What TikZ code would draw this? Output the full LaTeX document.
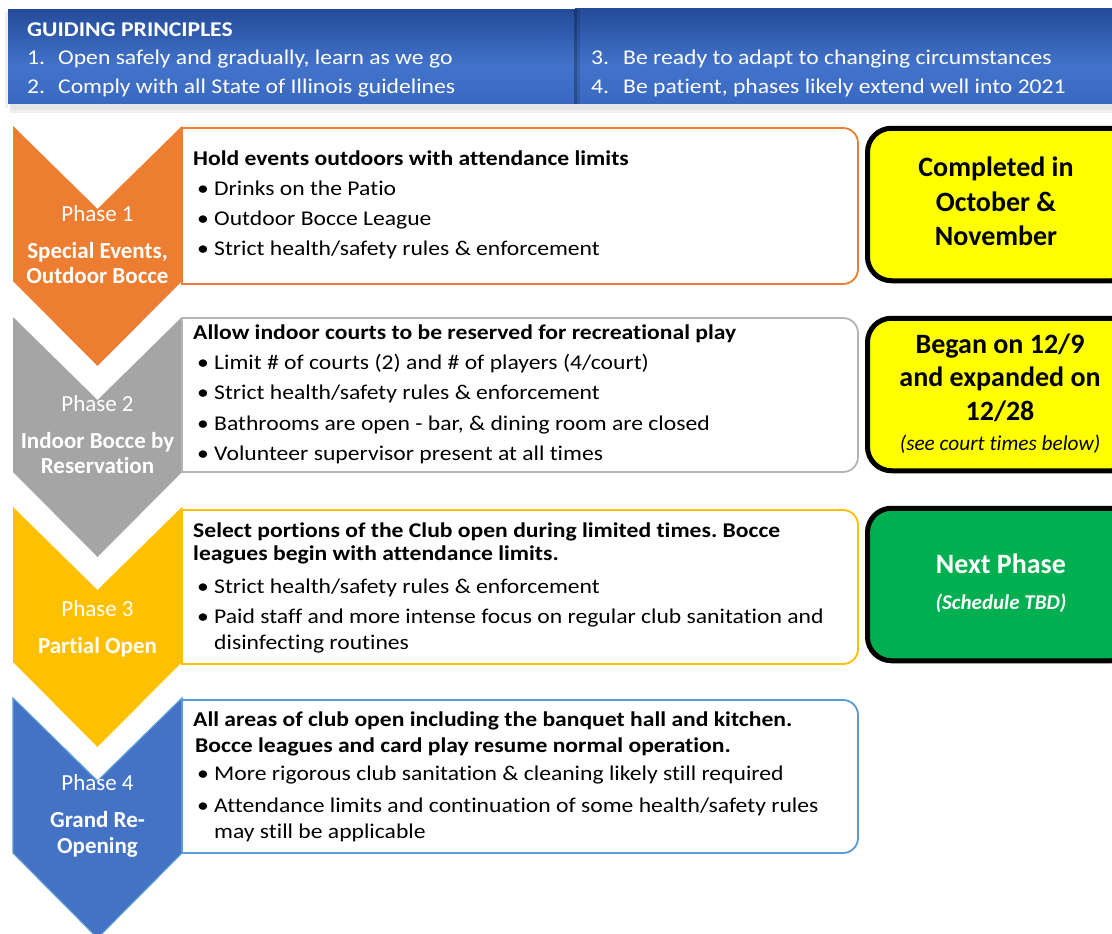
\documentclass[tikz,border=0pt]{standalone}
\usepackage{fontspec}
\setmainfont{Carlito}[Ligatures=NoCommon]
\newfontfamily\widef{Carlito}[FakeStretch=1.125, Ligatures=NoCommon]
\frenchspacing
\definecolor{orng}{HTML}{ED7D31}
\definecolor{gry}{HTML}{A5A5A5}
\definecolor{gryedge}{HTML}{B4B4B4}
\definecolor{gold}{HTML}{FFC000}
\definecolor{blu}{HTML}{4472C4}
\definecolor{bluedge}{HTML}{5B9BD5}
\definecolor{ylw}{HTML}{FFFF00}
\definecolor{grn}{HTML}{00B050}
\definecolor{htop}{HTML}{0B2260}
\definecolor{hup}{HTML}{1F4592}
\definecolor{hmid}{HTML}{4273CA}
\definecolor{hbot}{HTML}{2D5AB3}
\pgfdeclareverticalshading{hdrshade}{100bp}{color(0bp)=(hbot); color(45bp)=(hmid); color(80bp)=(hup); color(100bp)=(htop)}
\newcommand\fsz[1]{\fontsize{#1}{#1}\selectfont}
\newcommand\pbox[3]{%
  \draw[pbox, draw=#1] (182,#2) -- (843,#2) .. controls (851.3,#2) and (858,#2+6.7) .. (858,#2+15)
    -- (858,#3-15) .. controls (858,#3-6.7) and (851.3,#3) .. (843,#3) -- (182,#3) -- cycle;}
\newcommand\chev[2]{%
  \fill[#1] (13,#2) -- (97.5,#2+83) -- (182,#2) -- (182,#2+155) -- (97.5,#2+240) -- (13,#2+155) -- cycle;}
\tikzset{
  pbox/.style={line width=1.8pt, fill=white},
  hdr/.style={anchor=base west, inner sep=0pt, text=white, font=\widef\fsz{21}},
  hdrb/.style={hdr, font=\widef\fsz{21}\bfseries},
  body/.style={anchor=base west, inner sep=0pt, text=black, font=\widef\fsz{21}},
  bodyb/.style={body, font=\widef\fsz{21}\bfseries},
  phn/.style={anchor=base, inner sep=0pt, text=white, font=\fsz{23}},
  pht/.style={anchor=base, inner sep=0pt, text=white, font=\fsz{23}\bfseries},
  stat/.style={draw=black, line width=5pt, rounded corners=24pt, minimum width=268pt, minimum height=150pt, inner sep=0pt},
  st/.style={anchor=base, inner sep=0pt, font=\fsz{28}\bfseries},
  sti/.style={anchor=base, inner sep=0pt, font=\fsz{21.3}\itshape},
}
\begin{document}
\begin{tikzpicture}[x=1pt,y=-1pt]
\useasboundingbox (0,0) rectangle (1112,934);
\fill[white] (0,0) rectangle (1112,934);
% header shadow
\fill[black,opacity=0.10] (10,104) rectangle (1112,110);
\fill[black,opacity=0.06] (10,110) rectangle (1112,113);
\fill[black,opacity=0.06] (5,12) rectangle (8,108);
% header bands
\shade[shading=hdrshade] (8,10) rectangle (575,104);
\shade[shading=hdrshade] (575,9) rectangle (1120,104);
\fill[black,opacity=0.28] (574,9) rectangle (577,104);
\fill[black,opacity=0.12] (577,9) rectangle (580,104);
\node[hdrb] (gp) at (27,37) {GUIDING PRINCIPLES};
\node[hdr] (n1) at (27,65) {1.};
\node[hdr] (t1) at (58,65) {Open safely and gradually, learn as we go};
\node[hdr] (n2) at (27,94) {2.};
\node[hdr] (t2) at (58,94) {Comply with all State of Illinois guidelines};
\node[hdr] (n3) at (591,65) {3.};
\node[hdr] (t3) at (623,65) {Be ready to adapt to changing circumstances};
\node[hdr] (n4) at (591,94) {4.};
\node[hdr] (t4) at (623,94) {Be patient, phases likely extend well into 2021};
% chevrons
\chev{orng}{126}
\chev{gry}{317}
\chev{gold}{507}
\fill[blu, draw=bluedge, line width=1.2pt] (13,698) -- (97.5,781) -- (182,698) -- (182,853) -- (97.5,938) -- (13,853) -- cycle;
% chevron texts
\node[phn] (p1) at (97.5,221.7) {Phase 1};
\node[pht] (p1a) at (97.5,258.3) {Special Events,};
\node[pht] (p1b) at (97.5,283.3) {Outdoor Bocce};
\node[phn] (p2) at (97.5,411.7) {Phase 2};
\node[pht] (p2a) at (97.5,448.3) {Indoor Bocce by};
\node[pht] (p2b) at (97.5,473.3) {Reservation};
\node[phn] (p3) at (97.5,616.7) {Phase 3};
\node[pht] (p3a) at (97.5,653.3) {Partial Open};
\node[phn] (p4) at (97.5,790) {Phase 4};
\node[pht] (p4a) at (97.5,827.3) {Grand Re-};
\node[pht] (p4b) at (97.5,853.3) {Opening};
% phase boxes
\pbox{orng}{128}{284}
\pbox{gryedge}{318}{472}
\pbox{gold}{510}{664}
\pbox{bluedge}{700}{853}
% box 1
\node[bodyb] (h1) at (193,165) {Hold events outdoors with attendance limits};
\node[body] (b1ad) at (197,195) {•}; \node[body] (b1a) at (214,195) {Drinks on the Patio};
\node[body] (b1bd) at (197,225) {•}; \node[body] (b1b) at (214,225) {Outdoor Bocce League};
\node[body] (b1cd) at (197,255.5) {•}; \node[body] (b1c) at (214,255.5) {Strict health/safety rules \& enforcement};
% box 2
\node[bodyb] (h2) at (193,339) {Allow indoor courts to be reserved for recreational play};
\node[body] (b2ad) at (197,369) {•}; \node[body] (b2a) at (214,369) {Limit \# of courts (2) and \# of players (4/court)};
\node[body] (b2bd) at (197,399) {•}; \node[body] (b2b) at (214,399) {Strict health/safety rules \& enforcement};
\node[body] (b2cd) at (197,430) {•}; \node[body] (b2c) at (214,430) {Bathrooms are open - bar, \& dining room are closed};
\node[body] (b2dd) at (197,460) {•}; \node[body] (b2d) at (214,460) {Volunteer supervisor present at all times};
% box 3
\node[bodyb] (h3a) at (193,537) {Select portions of the Club open during limited times. Bocce};
\node[bodyb] (h3b) at (193,560) {leagues begin with attendance limits.};
\node[body] (b3ad) at (197,593) {•}; \node[body] (b3a) at (214,593) {Strict health/safety rules \& enforcement};
\node[body] (b3bd) at (197,623) {•}; \node[body] (b3b) at (214,623) {Paid staff and more intense focus on regular club sanitation and};
\node[body] (b3c) at (214,649) {disinfecting routines};
% box 4
\node[bodyb] (h4a) at (193,726) {All areas of club open including the banquet hall and kitchen.};
\node[bodyb] (h4b) at (195,752) {Bocce leagues and card play resume normal operation.};
\node[body] (b4ad) at (197,780) {•}; \node[body] (b4a) at (214,780) {More rigorous club sanitation \& cleaning likely still required};
\node[body] (b4bd) at (197,812) {•}; \node[body] (b4b) at (214,812) {Attendance limits and continuation of some health/safety rules};
\node[body] (b4c) at (214,838) {may still be applicable};
% status boxes
\node[stat, fill=ylw, minimum height=152.5pt] (s1) at (1001.5,204.5) {};
\node[stat, fill=ylw, minimum height=152.5pt] (s2) at (1001.5,394.5) {};
\node[stat, fill=grn, minimum height=152.5pt] (s3) at (1001.5,584.5) {};
\node[st] (s1a) at (996,176.7) {Completed in};
\node[st] (s1b) at (996,211.7) {October \&};
\node[st] (s1c) at (996,245) {November};
\node[st] (s2a) at (1000,353) {Began on 12/9};
\node[st] (s2b) at (1000,386.7) {and expanded on};
\node[st] (s2c) at (1000,420) {12/28};
\node[sti] (s2d) at (1000,450) {(see court times below)};
\node[st, text=white] (s3a) at (1001,573) {Next Phase};
\node[sti, text=white, font=\fsz{21}\bfseries\itshape] (s3b) at (1001,609) {(Schedule TBD)};
\end{tikzpicture}
\end{document}
